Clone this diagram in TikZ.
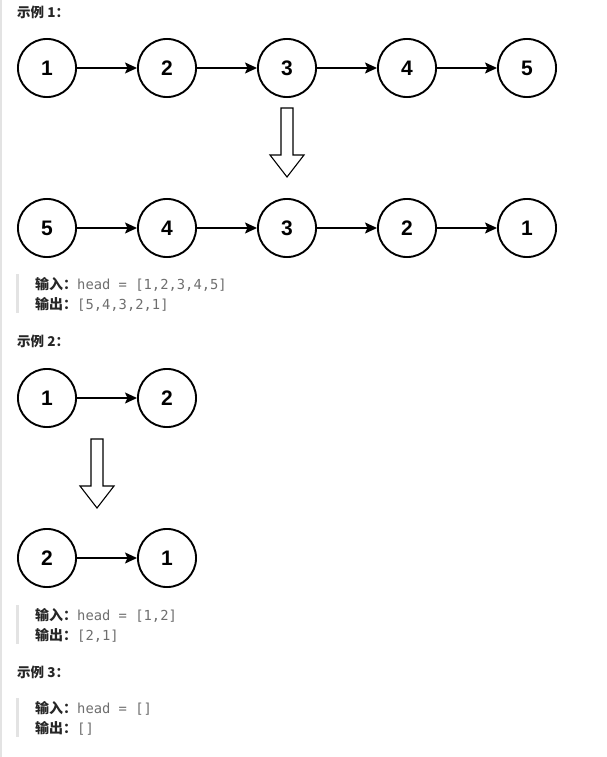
\documentclass[tikz,border=0pt]{standalone}
\usepackage{fontspec}
\setmainfont{Liberation Sans}
\setmonofont{DejaVu Sans Mono}
\newfontfamily\cjk{Noto Sans CJK SC}
\usepackage{tikz}
\usetikzlibrary{positioning,arrows.meta}

\definecolor{barcolor}{HTML}{E3E3E3}
\definecolor{codegray}{HTML}{6E6E6E}
\definecolor{headtext}{HTML}{262626}

\begin{document}
\begin{tikzpicture}[x=1pt,y=-1pt,
    listnode/.style={circle, draw, line width=1.9pt, minimum size=58.1pt,
        inner sep=0pt, font=\fontsize{21}{24}\selectfont\bfseries},
    link/.style={-{Stealth[length=12pt,width=11pt,inset=2.5pt]}, line width=1.5pt},
    turn/.style={draw, line width=1.1pt, fill=white, line join=miter},
    heading/.style={anchor=west, inner sep=0pt, text=headtext,
        font=\cjk\fontsize{13.5}{16}\selectfont\bfseries},
    ioline/.style={anchor=west, inner sep=0pt},
    node distance=60pt]

    \useasboundingbox (0,0) rectangle (607,757);
    \fill[barcolor] (0,0) rectangle (2,757);

    % example 1
    \node[heading] (h1) at (17,12) {示例 1：};

    \node[listnode] (a1) at (47,68) {1};
    \node[listnode, right=of a1] (a2) {2};
    \node[listnode, right=of a2] (a3) {3};
    \node[listnode, right=of a3] (a4) {4};
    \node[listnode, right=of a4] (a5) {5};
    \draw[link] (a1) -- (a2);
    \draw[link] (a2) -- (a3);
    \draw[link] (a3) -- (a4);
    \draw[link] (a4) -- (a5);

    \draw[turn] (281,108) -- (293,108) -- (293,155) -- (304,155) -- (287,177)
        -- (270,155) -- (281,155) -- cycle;

    \node[listnode] (b5) at (47,228) {5};
    \node[listnode, right=of b5] (b4) {4};
    \node[listnode, right=of b4] (b3) {3};
    \node[listnode, right=of b3] (b2) {2};
    \node[listnode, right=of b2] (b1) {1};
    \draw[link] (b5) -- (b4);
    \draw[link] (b4) -- (b3);
    \draw[link] (b3) -- (b2);
    \draw[link] (b2) -- (b1);

    \fill[barcolor] (16,274) rectangle (18.5,313);
    \node[ioline] (in1) at (35,284) {{\cjk\fontsize{14}{16}\selectfont\bfseries\color{headtext}输入：}{\ttfamily\fontsize{13.8}{16}\selectfont\color{codegray}head = [1,2,3,4,5]}};
    \node[ioline] (out1) at (35,304) {{\cjk\fontsize{14}{16}\selectfont\bfseries\color{headtext}输出：}{\ttfamily\fontsize{13.8}{16}\selectfont\color{codegray}[5,4,3,2,1]}};

    % example 2
    \node[heading] (h2) at (17,341) {示例 2：};

    \node[listnode] (c1) at (47,398) {1};
    \node[listnode, right=of c1] (c2) {2};
    \draw[link] (c1) -- (c2);

    \draw[turn] (91,439) -- (103,439) -- (103,486) -- (114,486) -- (97,508)
        -- (80,486) -- (91,486) -- cycle;

    \node[listnode] (d2) at (47,558) {2};
    \node[listnode, right=of d2] (d1) {1};
    \draw[link] (d2) -- (d1);

    \fill[barcolor] (16,605) rectangle (18.5,644);
    \node[ioline] (in2) at (35,615) {{\cjk\fontsize{14}{16}\selectfont\bfseries\color{headtext}输入：}{\ttfamily\fontsize{13.8}{16}\selectfont\color{codegray}head = [1,2]}};
    \node[ioline] (out2) at (35,635) {{\cjk\fontsize{14}{16}\selectfont\bfseries\color{headtext}输出：}{\ttfamily\fontsize{13.8}{16}\selectfont\color{codegray}[2,1]}};

    % example 3
    \node[heading] (h3) at (17,672) {示例 3：};

    \fill[barcolor] (16,698) rectangle (18.5,737);
    \node[ioline] (in3) at (35,708) {{\cjk\fontsize{14}{16}\selectfont\bfseries\color{headtext}输入：}{\ttfamily\fontsize{13.8}{16}\selectfont\color{codegray}head = []}};
    \node[ioline] (out3) at (35,728) {{\cjk\fontsize{14}{16}\selectfont\bfseries\color{headtext}输出：}{\ttfamily\fontsize{13.8}{16}\selectfont\color{codegray}[]}};

\end{tikzpicture}
\end{document}
